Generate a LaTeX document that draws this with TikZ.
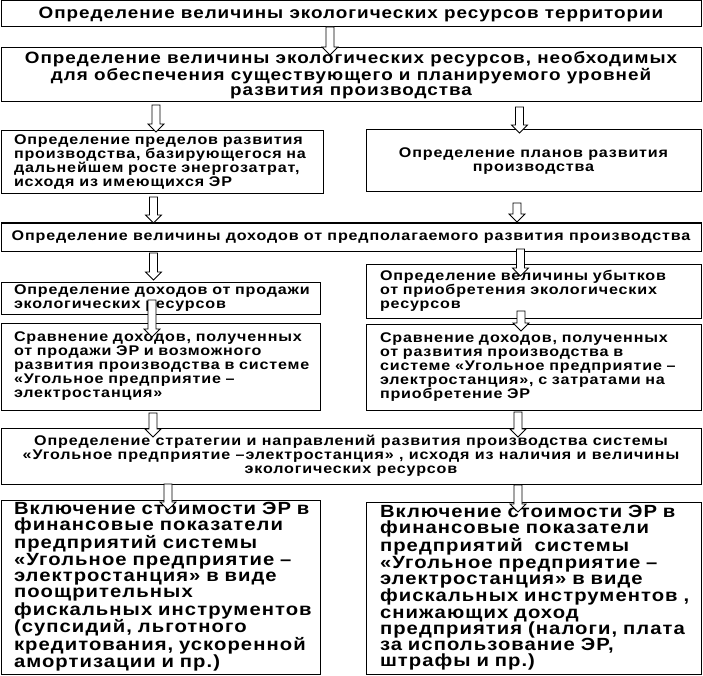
\documentclass[tikz,border=0pt]{standalone}
\usepackage{fontspec}
\setmainfont{Liberation Sans}
\newfontfamily\rf{Liberation Sans}[LetterSpace=6, FakeStretch=1.15]
\newcommand\ml[1]{\mbox{#1}}
\usetikzlibrary{calc}
\tikzset{
  x=1pt, y=-1pt,
  box/.style={draw, line width=1pt, inner sep=0pt, outer sep=0pt},
  sm/.style={font=\rf\bfseries\fontsize{14}{14}\selectfont},
  md/.style={font=\rf\bfseries\fontsize{16.4}{15.2}\selectfont},
  lg/.style={font=\rf\bfseries\fontsize{17.6}{16.3}\selectfont},
  blockarrow/.style 2 args={fill=white, draw=black, line width=0.8pt,
    to path={let \p1=(\tikztostart), \p2=(\tikztotarget) in
      (\x1-4,\y1-#1) -- (\x1+4,\y1-#1) -- (\x1+4,\y2+8-#2) -- (\x1+8,\y2+8-#2)
      -- (\x1,\y2-#2) -- (\x1-8,\y2+8-#2) -- (\x1-4,\y2+8-#2) -- cycle}}
}
\begin{document}
\begin{tikzpicture}
\useasboundingbox (0,0) rectangle (703,676);
% boxes
\node[box, md, minimum width=700, minimum height=26, align=center] (b1) at (351,14)
  {Определение величины экологических ресурсов территории};
\node[box, md, minimum width=700, minimum height=54, align=center] (b2) at (351,75)
  {Определение величины экологических ресурсов, необходимых\\для обеспечения существующего и планируемого уровней\\развития производства};
\node[box, sm, minimum width=322, minimum height=63, text width=296, inner xsep=13, align=left] (b3) at (162,162.5)
  {\ml{Определение пределов развития}\\\ml{производства, базирующегося на}\\\ml{дальнейшем росте энергозатрат,}\\\ml{исходя из имеющихся ЭР}};
\node[box, sm, minimum width=335, minimum height=62, align=center] (b4) at (533.5,161)
  {Определение планов развития\\производства};
\node[box, sm, minimum width=700, minimum height=28, align=center] (b5) at (351,237)
  {Определение величины доходов от предполагаемого развития производства};
\node[box, sm, minimum width=319, minimum height=32, text width=293, inner xsep=13, align=left] (b6) at (160.5,298)
  {\ml{Определение доходов от продажи}\\\ml{экологических ресурсов}};
\node[box, sm, minimum width=335, minimum height=54, text width=307, inner xsep=14, align=left] (b7) at (533.5,291)
  {\ml{Определение величины убытков}\\\ml{от приобретения экологических}\\\ml{ресурсов}};
\node[box, sm, minimum width=319, minimum height=87, text width=293, inner xsep=13, align=left] (b8) at (160.5,366.5)
  {\ml{Сравнение доходов, полученных}\\\ml{от продажи ЭР и возможного}\\\ml{развития производства в системе}\\\ml{«Угольное предприятие –}\\\ml{электростанция»}};
\node[box, sm, minimum width=335, minimum height=86, text width=307, inner xsep=14, align=left] (b9) at (533.5,367)
  {\ml{Сравнение доходов, полученных}\\\ml{от развития производства в}\\\ml{системе «Угольное предприятие –}\\\ml{электростанция», с затратами на}\\\ml{приобретение ЭР}};
\node[box, sm, minimum width=700, minimum height=56, align=center] (b10) at (351,456)
  {Определение стратегии и направлений развития производства системы\\«Угольное предприятие –электростанция» , исходя из наличия и величины\\экологических ресурсов};
\node[box, lg, minimum width=319, minimum height=174, text width=293, inner xsep=13, align=left] (b11) at (160.5,587)
  {\ml{Включение стоимости ЭР в}\\\ml{финансовые показатели}\\\ml{предприятий системы}\\\ml{«Угольное предприятие –}\\\ml{электростанция» в виде}\\\ml{поощрительных}\\\ml{фискальных инструментов}\\\ml{(супсидий, льготного}\\\ml{кредитования, ускоренной}\\\ml{амортизации и пр.)}};
\node[box, lg, minimum width=335, minimum height=172, text width=307, inner xsep=14, align=left] (b12) at (533.5,588)
  {\ml{Включение стоимости ЭР в}\\\ml{финансовые показатели}\\\ml{предприятий \ системы}\\\ml{«Угольное предприятие –}\\\ml{электростанция» в виде}\\\ml{фискальных инструментов ,}\\\ml{снижающих доход}\\\ml{предприятия (налоги, плата}\\\ml{за использование ЭР,}\\\ml{штрафы и пр.)}};
% arrow x positions
\coordinate (xa1) at (330,0);
\coordinate (xa2) at (156,0);
\coordinate (xa3) at (519.5,0);
\coordinate (xa4) at (153.5,0);
\coordinate (xa5) at (517,0);
\coordinate (xa6) at (153.5,0);
\coordinate (xa7) at (520.5,0);
\coordinate (xa8) at (152,0);
\coordinate (xa9) at (521,0);
\coordinate (xa10) at (153,0);
\coordinate (xa11) at (518,0);
\coordinate (xa12) at (168,0);
\coordinate (xa13) at (518,0);
% arrows
\draw[blockarrow={0}{7}] (b1.south -| xa1) to (b2.north -| xa1);
\draw[blockarrow={3}{1}] (b2.south -| xa2) to (b3.north -| xa2);
\draw[blockarrow={5}{3}] (b2.south -| xa3) to (b4.north -| xa3);
\draw[blockarrow={3}{0}] (b3.south -| xa4) to (b5.north -| xa4);
\draw[blockarrow={11}{-1}] (b4.south -| xa5) to (b5.north -| xa5);
\draw[blockarrow={2}{-2}] (b5.south -| xa6) to (b6.north -| xa6);
\draw[blockarrow={-2}{12}] (b5.south -| xa7) to (b7.north -| xa7);
\draw[blockarrow={-14}{14}] (b6.south -| xa8) to (b8.north -| xa8);
\draw[blockarrow={-7}{7}] (b7.south -| xa9) to (b9.north -| xa9);
\draw[blockarrow={3}{9}] (b8.south -| xa10) to (b10.north -| xa10);
\draw[blockarrow={2}{9}] (b9.south -| xa11) to (b10.north -| xa11);
\draw[blockarrow={0}{10}] (b10.south -| xa12) to (b11.north -| xa12);
\draw[blockarrow={1}{10}] (b10.south -| xa13) to (b12.north -| xa13);
\end{tikzpicture}
\end{document}
